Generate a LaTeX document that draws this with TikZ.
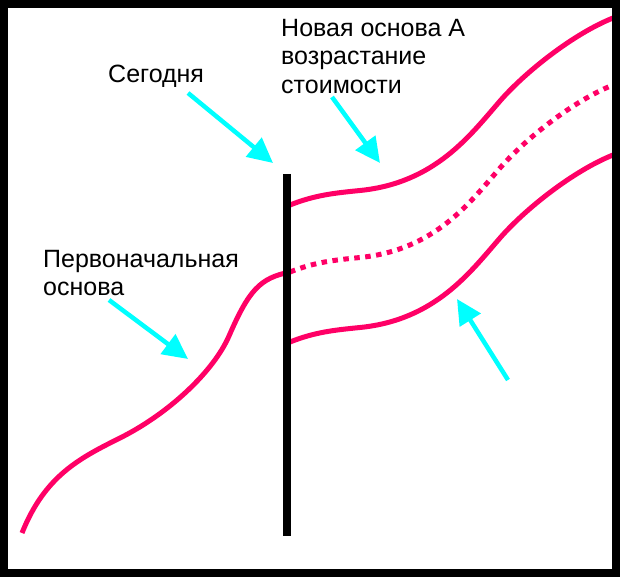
\documentclass[tikz,border=0pt]{standalone}
\usepackage{fontspec}
\setmainfont{Liberation Sans}
\usetikzlibrary{arrows.meta}
\definecolor{pinkred}{HTML}{FF0066}
\definecolor{cyanarrow}{HTML}{00FFFF}
\begin{document}
\begin{tikzpicture}[x=1pt,y=-1pt,
  curve/.style={draw=pinkred,line width=5pt},
  dotcurve/.style={curve,dash pattern=on 5.5pt off 5.5pt},
  pointer/.style={draw=cyanarrow,line width=4.5pt,-{Triangle[length=25pt,width=24pt]}},
  txt/.style={font=\fontsize{25}{28.5}\selectfont,inner sep=0pt,align=left}]
\useasboundingbox (0,0) rectangle (620,577);
% curves
\draw[curve] (22,533) .. controls (45,475.5) and (80,458) .. (120,438)
  .. controls (170,413) and (214,370.5) .. (229,336)
  .. controls (249,290) and (260,278) .. (290,272);
\draw[curve] (290,205) .. controls (315,195) and (335,193) .. (360,190.5)
  .. controls (435,183) and (470,135.5) .. (500,101)
  .. controls (525,72.25) and (573,34) .. (613,18);
\draw[dotcurve] (290,272) .. controls (315,262) and (335,260) .. (360,257.5)
  .. controls (435,250) and (470,202.5) .. (500,168)
  .. controls (525,139.25) and (573,101) .. (613,85);
\draw[curve] (290,342) .. controls (315,332) and (335,330) .. (360,327.5)
  .. controls (435,320) and (470,272.5) .. (500,238)
  .. controls (525,209.25) and (573,171) .. (613,155);
% frame
\draw[line width=8pt] (4,4) rectangle (616,572.5);
% today bar
\coordinate (bartop) at (287,174);
\coordinate (barbot) at (287,536);
\draw[line width=8pt] (bartop) -- (barbot);
% labels
\node[txt,anchor=base west] (today) at (108,83) {Сегодня};
\node[txt,anchor=north west] (newbase) at (281,19) {Новая основа А\\возрастание\\стоимости};
\node[txt,anchor=north west] (origbase) at (43,250) {Первоначальная\\основа};
% arrows
\coordinate (a1s) at (188,93);  \coordinate (a1e) at (273,163);
\coordinate (a2s) at (332,97);  \coordinate (a2e) at (380,163);
\coordinate (a3s) at (109,300); \coordinate (a3e) at (188,359);
\coordinate (a4s) at (508,380); \coordinate (a4e) at (457,299);
\draw[pointer] (a1s) -- (a1e);
\draw[pointer] (a2s) -- (a2e);
\draw[pointer] (a3s) -- (a3e);
\draw[pointer] (a4s) -- (a4e);
\end{tikzpicture}
\end{document}
